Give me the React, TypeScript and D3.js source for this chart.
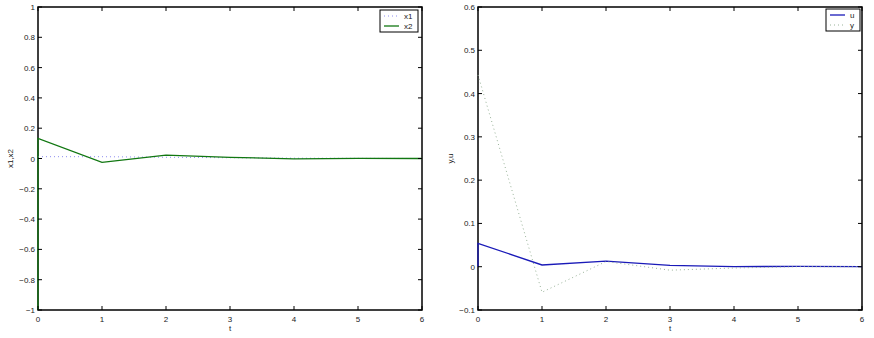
import React from "react";
import * as d3 from "d3";

const tLeftX1 = [0, 1, 2, 3, 4, 5, 6];
const x1Vals = [0.012, 0.012, 0.008, 0.005, 0.002, 0.001, 0.0];
const tLeftX2 = [0, 0, 1, 2, 3, 4, 5, 6];
const x2Vals = [-1, 0.132, -0.026, 0.022, 0.008, -0.002, 0.001, 0.0];

const tRightU = [0, 0, 1, 2, 3, 4, 5, 6];
const uVals = [0, 0.054, 0.004, 0.013, 0.003, 0.0, 0.001, 0.0];
const tRightY = [0, 1, 2, 3, 4, 5, 6];
const yVals = [0.443, -0.059, 0.012, -0.008, -0.003, 0.0, 0.0];

const xTicks = [0, 1, 2, 3, 4, 5, 6];
const leftYTicks = [-1, -0.8, -0.6, -0.4, -0.2, 0, 0.2, 0.4, 0.6, 0.8, 1];
const rightYTicks = [-0.1, 0, 0.1, 0.2, 0.3, 0.4, 0.5, 0.6];

const FONT = "'Liberation Sans', Arial, sans-serif";

type Series = { t: number[]; v: number[]; color: string; dash?: string; width: number; label: string };

function fmt(v: number) {
  const s = d3.format("~g")(Math.round(v * 100) / 100);
  return s.replace("-", "\u2212");
}

function Panel(props: {
  x0: number; x1: number; y0: number; y1: number;
  yDomain: [number, number]; yTicks: number[]; yLabel: string;
  series: Series[]; legend: { x: number; y: number; w: number; h: number };
}) {
  const { x0, x1, y0, y1, yDomain, yTicks, yLabel, series, legend } = props;
  const xs = d3.scaleLinear().domain([0, 6]).range([x0, x1]);
  const ys = d3.scaleLinear().domain(yDomain).range([y1, y0]);
  const tl = 4;
  const lineGen = d3.line<[number, number]>().x(d => xs(d[0])).y(d => ys(d[1]));
  return (
    <g>
      <rect x={x0} y={y0} width={x1 - x0} height={y1 - y0} fill="none" stroke="#000" strokeWidth={1.5} />
      {series.map((s, i) => (
        <path key={i} d={lineGen(s.t.map((t, j) => [t, s.v[j]] as [number, number])) || ""}
          fill="none" stroke={s.color} strokeWidth={s.width} strokeDasharray={s.dash} />
      ))}
      {xTicks.map(t => (
        <g key={"x" + t}>
          <line x1={xs(t)} x2={xs(t)} y1={y1} y2={y1 - tl} stroke="#000" strokeWidth={1} />
          <line x1={xs(t)} x2={xs(t)} y1={y0} y2={y0 + tl} stroke="#000" strokeWidth={1} />
          <text x={xs(t)} y={y1 + 12} textAnchor="middle" fontSize={8} fill="#222" fontFamily={FONT}>{fmt(t)}</text>
        </g>
      ))}
      {yTicks.map(t => (
        <g key={"y" + t}>
          <line x1={x0} x2={x0 + tl} y1={ys(t)} y2={ys(t)} stroke="#000" strokeWidth={1} />
          <line x1={x1} x2={x1 - tl} y1={ys(t)} y2={ys(t)} stroke="#000" strokeWidth={1} />
          <text x={x0 - 3} y={ys(t) + 3} textAnchor="end" fontSize={8} fill="#222" fontFamily={FONT}>{fmt(t)}</text>
        </g>
      ))}
      <text x={(x0 + x1) / 2} y={y1 + 21} textAnchor="middle" fontSize={8} fill="#222" fontFamily={FONT}>t</text>
      <text transform={`translate(${x0 - 25},${(y0 + y1) / 2}) rotate(-90)`} textAnchor="middle" fontSize={8} fill="#222" fontFamily={FONT}>{yLabel}</text>
      <rect x={legend.x} y={legend.y} width={legend.w} height={legend.h} fill="#fff" stroke="#000" strokeWidth={1} />
      {series.map((s, i) => (
        <g key={"l" + i}>
          <line x1={legend.x + 4} x2={legend.x + 19} y1={legend.y + 6 + i * 10} y2={legend.y + 6 + i * 10}
            stroke={s.color} strokeWidth={s.width} strokeDasharray={s.dash} />
          <text x={legend.x + 24} y={legend.y + 9 + i * 10} fontSize={8} fill="#222" fontFamily={FONT}>{s.label}</text>
        </g>
      ))}
    </g>
  );
}

export default function App() {
  return (
    <svg width={874} height={338} style={{ position: "absolute", left: 0, top: 0, background: "#fff" }}>
      <rect x={0} y={0} width={874} height={338} fill="#fff" />
      <Panel x0={38} x1={422} y0={7} y1={310} yDomain={[-1, 1]} yTicks={leftYTicks} yLabel="x1,x2"
        legend={{ x: 380, y: 10, w: 38, h: 22 }}
        series={[
          { t: tLeftX1, v: x1Vals, color: "#8c8cf0", dash: "1,3", width: 1, label: "x1" },
          { t: tLeftX2, v: x2Vals, color: "#117711", width: 1.3, label: "x2" },
        ]} />
      <Panel x0={478} x1={862} y0={7} y1={310} yDomain={[-0.1, 0.6]} yTicks={rightYTicks} yLabel="y,u"
        legend={{ x: 826, y: 9, w: 34, h: 22 }}
        series={[
          { t: tRightU, v: uVals, color: "#1a1ab8", width: 1.3, label: "u" },
          { t: tRightY, v: yVals, color: "#99b399", dash: "1,3", width: 1, label: "y" },
        ]} />
    </svg>
  );
}
